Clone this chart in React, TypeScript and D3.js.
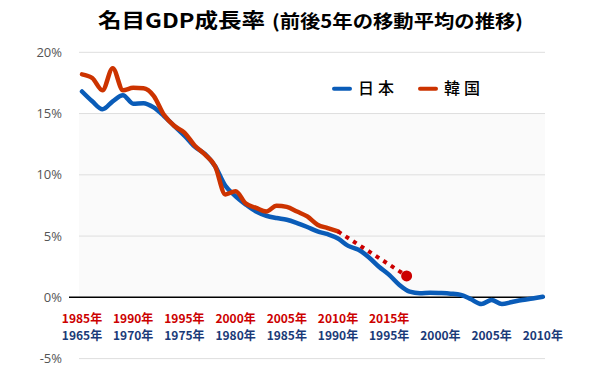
import React from "react";
import * as d3 from "d3";

const japanYears = d3.range(1965, 2011);
const japanValues = [
  16.8, 16.0, 15.35, 16.0, 16.5, 15.8, 15.85, 15.5, 14.8, 14.0,
  13.2, 12.3, 11.7, 10.7, 9.1, 8.25, 7.57, 7.0, 6.66, 6.47,
  6.33, 6.06, 5.74, 5.38, 5.15, 4.8, 4.2, 3.88, 3.28, 2.5,
  1.83, 1.0, 0.46, 0.33, 0.38, 0.35, 0.3, 0.2, -0.16, -0.55,
  -0.22, -0.55, -0.38, -0.22, -0.1, 0.05,
];
const koreaYears = d3.range(1985, 2011);
const koreaValues = [
  18.2, 17.9, 16.9, 18.7, 16.9, 17.1, 17.07, 16.45, 14.9, 14.0,
  13.45, 12.4, 11.66, 10.7, 8.4, 8.66, 7.65, 7.3, 7.0, 7.48,
  7.38, 7.0, 6.6, 5.93, 5.65, 5.38,
];
const koreaForecastYears = [2010, 2016.7];
const koreaForecastValues = [5.38, 1.75];

const yTicks = [20, 15, 10, 5, 0, -5];
const xTickYears = [1965, 1970, 1975, 1980, 1985, 1990, 1995, 2000, 2005, 2010];
const koreaTickYears = [1985, 1990, 1995, 2000, 2005, 2010, 2015];
const YEAR_OFFSET = 20;

export default function App() {
  const W = 600, H = 380;
  const x = d3.scaleLinear().domain([1965, 2010]).range([82, 542.8]);
  const y = d3.scaleLinear().domain([-5, 20]).range([358.6, 52.3]);
  const left = 79, right = 545;

  const line = d3
    .line<[number, number]>()
    .x((d) => x(d[0]))
    .y((d) => y(d[1]))
    .curve(d3.curveMonotoneX);

  const jp: [number, number][] = japanYears.map((yr, i) => [yr, japanValues[i]]);
  const kr: [number, number][] = koreaYears.map((yr, i) => [yr - YEAR_OFFSET, koreaValues[i]]);
  const fc: [number, number][] = koreaForecastYears.map((yr, i) => [yr - YEAR_OFFSET, koreaForecastValues[i]]);

  const labelFont = "'Noto Sans CJK JP', 'Noto Sans', sans-serif";

  return (
    <svg
      width={W}
      height={H}
      style={{ position: "fixed", left: 0, top: 0, background: "#fff" }}
    >
      <rect x={0} y={0} width={W} height={H} fill="#fff" />
      {/* title */}
      <text
        x={98}
        y={28}
        fontFamily={labelFont}
        fontWeight={700}
        fontSize={20}
        fill="#000"
        textLength={167}
        lengthAdjust="spacingAndGlyphs"
      >
        名目GDP成長率
      </text>
      <text
        x={272}
        y={28}
        fontFamily={labelFont}
        fontWeight={700}
        fontSize={18}
        fill="#000"
        textLength={251}
        lengthAdjust="spacingAndGlyphs"
      >
        (前後5年の移動平均の推移)
      </text>

      {/* shaded band 0-15% */}
      <rect x={left} y={y(15)} width={right - left} height={y(0) - y(15)} fill="#fafafa" />

      {/* gridlines */}
      {yTicks
        .filter((t) => t !== 0)
        .map((t) => (
          <line key={t} x1={left} x2={right} y1={y(t)} y2={y(t)} stroke="#dedede" strokeWidth={1} />
        ))}
      <line x1={69} x2={right} y1={y(0)} y2={y(0)} stroke="#000" strokeWidth={1.5} />

      {/* y tick labels */}
      {yTicks.map((t) => (
        <text
          key={t}
          x={62}
          y={y(t)}
          dy="0.35em"
          textAnchor="end"
          fontFamily="'Open Sans', 'Noto Sans', sans-serif"
          fontSize={13}
          fill="#555"
        >
          {t}%
        </text>
      ))}

      {/* x labels */}
      {koreaTickYears.map((yr) => (
        <text
          key={"k" + yr}
          x={x(yr - YEAR_OFFSET)}
          y={323}
          textAnchor="middle"
          fontFamily={labelFont}
          fontWeight={700}
          fontSize={12}
          fill="#cc0000"
        >
          {yr}年
        </text>
      ))}
      {xTickYears.map((yr) => (
        <text
          key={"j" + yr}
          x={x(yr)}
          y={339.5}
          textAnchor="middle"
          fontFamily={labelFont}
          fontWeight={700}
          fontSize={12}
          fill="#1a3a78"
        >
          {yr}年
        </text>
      ))}

      {/* lines */}
      <path d={line(jp) || ""} fill="none" stroke="#0a5cb8" strokeWidth={4.5} strokeLinejoin="round" strokeLinecap="round" />
      <path d={line(kr) || ""} fill="none" stroke="#cc3300" strokeWidth={4.5} strokeLinejoin="round" strokeLinecap="round" />
      <path
        d={d3.line<[number, number]>().x((d) => x(d[0])).y((d) => y(d[1]))(fc) || ""}
        fill="none"
        stroke="#cc0000"
        strokeWidth={4}
        strokeDasharray="4 5"
      />
      <circle cx={x(fc[1][0])} cy={y(fc[1][1])} r={5.5} fill="#cc0000" />

      {/* legend */}
      <line x1={334} x2={350} y1={88.7} y2={88.7} stroke="#0a5cb8" strokeWidth={4} strokeLinecap="round" />
      <text x={358} y={88.7} dy="0.35em" fontFamily={labelFont} fontSize={16} fontWeight={500} fill="#000" letterSpacing={4}>
        日本
      </text>
      <line x1={420} x2={436} y1={88.7} y2={88.7} stroke="#cc3300" strokeWidth={4} strokeLinecap="round" />
      <text x={444} y={88.7} dy="0.35em" fontFamily={labelFont} fontSize={16} fontWeight={500} fill="#000" letterSpacing={4}>
        韓国
      </text>
    </svg>
  );
}
